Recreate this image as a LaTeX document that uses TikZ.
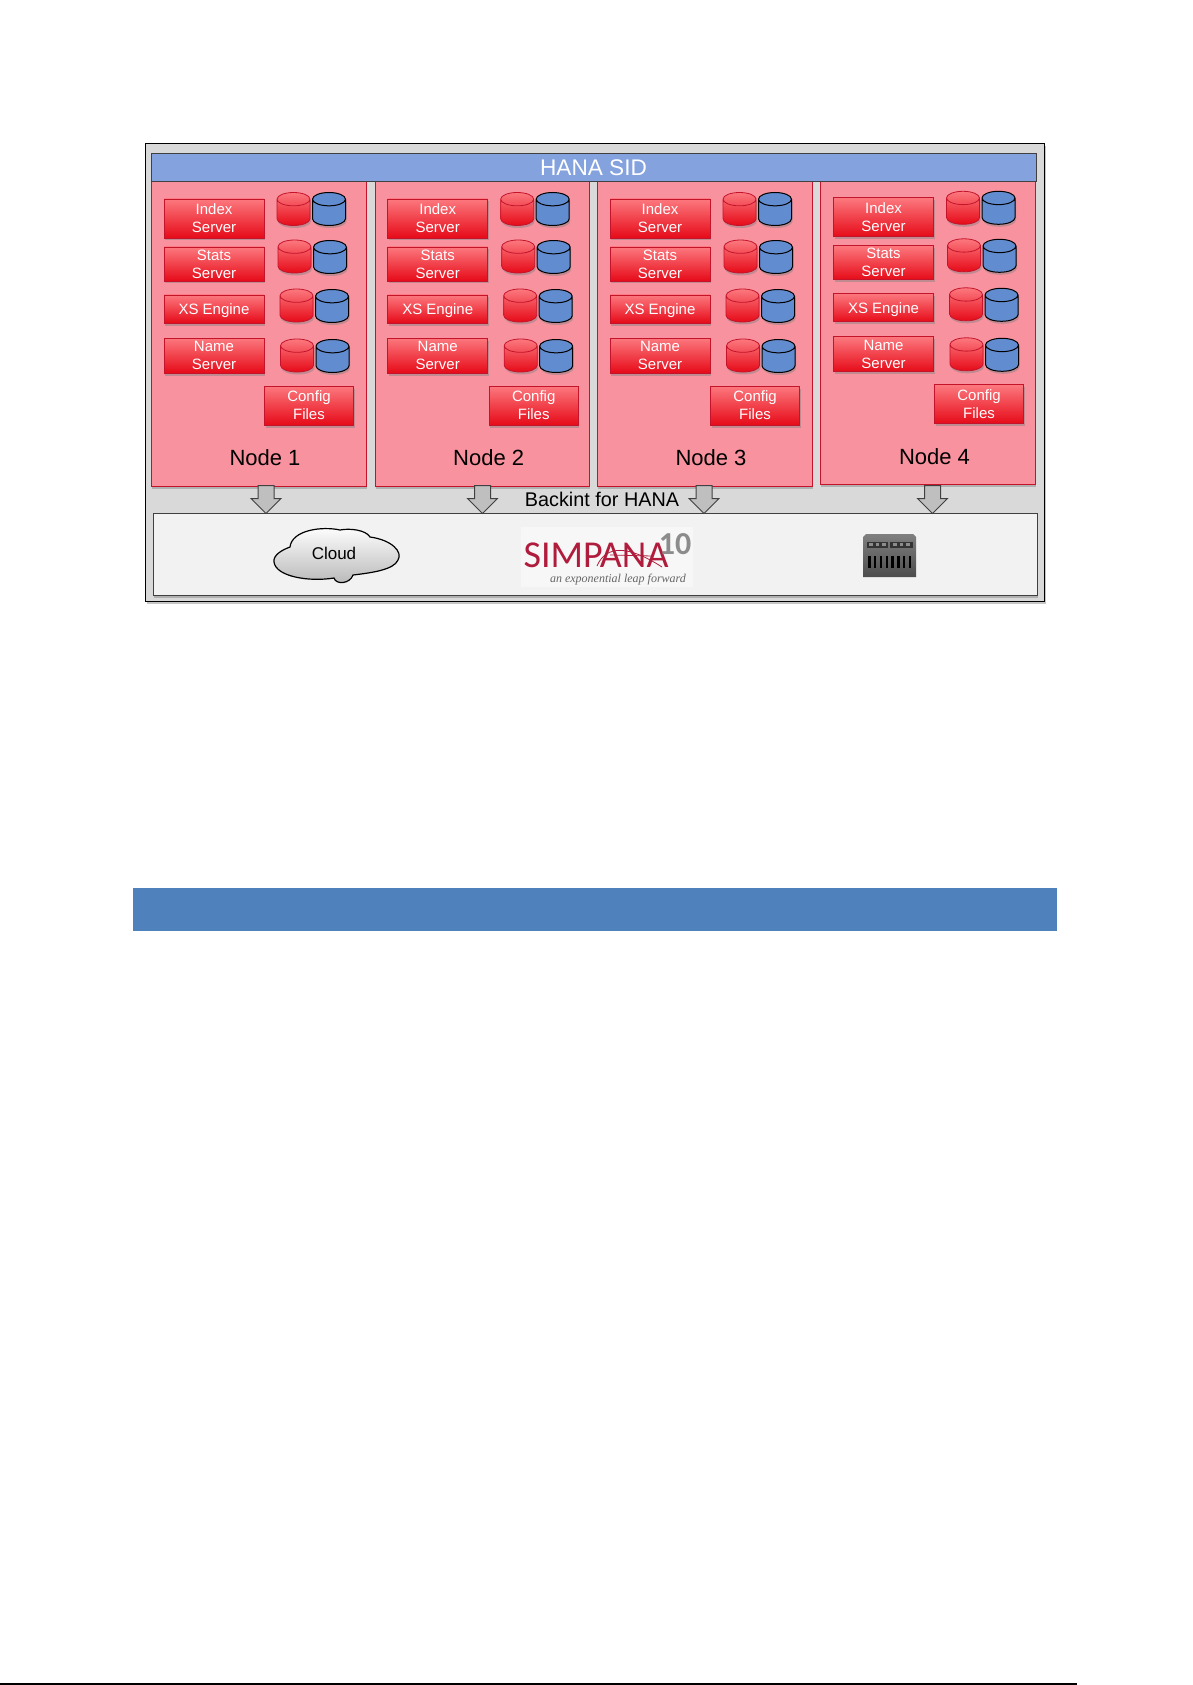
\documentclass[tikz,border=0pt]{standalone}
\usepackage{fontspec}
\setmainfont{Liberation Sans}
\newfontfamily\logofont{Carlito}
\newfontfamily\tagfont{Liberation Serif}
\usepackage{tikz}
\usetikzlibrary{positioning,shapes.geometric,shapes.arrows,shadows}

\definecolor{pinkpanel}{RGB}{248,146,158}
\definecolor{redline}{RGB}{196,20,44}
\definecolor{titleblue}{RGB}{132,162,222}
\definecolor{cylblue}{RGB}{98,140,208}
\definecolor{bandblue}{RGB}{79,129,189}
\definecolor{logored}{RGB}{176,28,60}
\definecolor{redtop}{RGB}{252,120,126}
\definecolor{redmid}{RGB}{245,72,80}
\definecolor{redbot}{RGB}{230,10,24}

\begin{document}
\begin{tikzpicture}[
    x=1pt, y=-1pt,
    softshadow/.style={drop shadow={opacity=.45, shadow xshift=1pt, shadow yshift=-2.5pt}},
    outerbox/.style={draw=black, line width=1pt, fill=black!15, minimum width=899pt, minimum height=457pt, softshadow},
    titlebar/.style={draw=black!75, line width=1pt, fill=titleblue, text=white, minimum width=885pt, minimum height=28pt, font=\fontsize{22.6}{26}\selectfont},
    panel/.style={draw=redline, line width=1pt, fill=pinkpanel, minimum height=304pt, softshadow},
    redbox/.style={draw=redline, line width=.8pt, top color=redtop, middle color=redmid, bottom color=redbot, text=white, minimum width=100pt, inner sep=0pt, align=center, font=\fontsize{15}{18}\selectfont, softshadow},
    cyl/.style={shape=cylinder, anchor=shape center, shape border rotate=90, shape aspect=2, minimum width=33pt, minimum height=33pt},
    redcyl/.style={cyl, draw=redline, line width=.8pt, top color=redtop, bottom color=redbot, softshadow},
    bluecyl/.style={cyl, draw=black, line width=1pt, fill=cylblue, softshadow},
    nodelabel/.style={font=\fontsize{22}{26}\selectfont},
    downarrow/.style={shape=single arrow, shape border rotate=270, draw=black!75, line width=1pt, fill=black!25, minimum height=28pt, single arrow head extend=7pt, inner sep=7.5pt, single arrow tip angle=90},
    storebox/.style={draw=black!75, line width=1pt, fill=black!5, minimum width=884pt, minimum height=82pt, softshadow},
    cloudshape/.style={draw=black, line width=1.2pt, top color=white, bottom color=black!28}
]

\useasboundingbox (0,0) rectangle (1192,1685);

\node[outerbox] (sid) at (595,372.5) {};

\node[panel, minimum width=215pt] (panel1) at (258.5,334) {};
\node[panel, minimum width=214pt] (panel2) at (482,334) {};
\node[panel, minimum width=215pt] (panel3) at (704.5,334) {};
\node[panel, minimum width=215pt, minimum height=302pt] (panel4) at (927.5,333) {};

\node[titlebar] (title) at (593.5,168) {HANA SID};

\foreach \i/\dx/\dy/\cx in {1/0/0/309, 2/223.7/0/310, 3/446/0/309, 4/669.5/-1.2/309.5} {
  \begin{scope}[shift={(\dx,\dy)}]
    \node[redbox, minimum height=39pt, text depth=0pt] (index\i) at (214,218.5) {Index\\Server};
    \node[redbox, minimum height=34pt] (stats\i) at (214,264) {Stats\\Server};
    \node[redbox, minimum height=28pt, text depth=0pt] (xs\i) at (214,309) {XS Engine};
    \node[redbox, minimum height=35pt] (name\i) at (214,355.5) {Name\\Server};
    \node[redbox, minimum width=89pt, minimum height=39pt] (config\i) at (\cx,405.5) {Config\\Files};
    \node[nodelabel] (label\i) at (265,458) {Node \i};
    \node[redcyl] (ra\i) at (293.5,209) {};
    \node[bluecyl] (ba\i) at (329,209) {};
    \node[redcyl] (rb\i) at (294.5,256.5) {};
    \node[bluecyl] (bb\i) at (330,257) {};
    \node[redcyl] (rc\i) at (296.5,305.5) {};
    \node[bluecyl] (bc\i) at (332,306) {};
    \node[redcyl] (rd\i) at (297,355.5) {};
    \node[bluecyl] (bd\i) at (332.5,356) {};
  \end{scope}
}

\node[storebox] (store) at (595,554) {};

\foreach \i/\x in {1/266, 2/482.5, 3/704, 4/932.5} {
  \node[downarrow] (arrow\i) at (\x,495.5) {};
}
\node[font=\fontsize{19.8}{24}\selectfont] (backint) at (602,499.5) {Backint for HANA};

\path[cloudshape] (290,547) .. controls (292,530) and (322,526) .. (340,530)
  .. controls (350,528) and (366,530) .. (370,537)
  .. controls (392,540) and (403,552) .. (398,560)
  .. controls (394,570) and (370,573) .. (353,575)
  .. controls (350,584) and (336,585) .. (334,578)
  .. controls (310,582) and (276,577) .. (274,562)
  .. controls (273,555) and (282,550) .. (290,547) -- cycle;
\node[font=\fontsize{17}{20}\selectfont] (cloud) at (334,553) {Cloud};

\node[fill=black!3, minimum width=172pt, minimum height=60pt, inner sep=0pt] (logobg) at (607,557) {};
\node[font=\logofont\fontsize{38}{40}\selectfont, text=logored, inner sep=0pt, text height=24pt, text depth=0pt] (simpana) at (596,555.5) {SIMPANA};
\node[font=\logofont\bfseries\fontsize{32}{36}\selectfont, text=black!45, inner sep=0pt] (ten) at (675,544) {10};
\node[font=\tagfont\itshape\fontsize{12}{14}\selectfont, text=black!60, inner sep=0pt] (tagline) at (618,580) {an exponential leap forward};
\coordinate (swooshstart) at (597,566);
\coordinate (swooshend) at (662,567);
\draw[logored, line width=.8pt] (swooshstart) .. controls (606,545) and (628,545) .. (swooshend);
\coordinate (strikestart) at (610,555);
\coordinate (strikeend) at (652,556);
\draw[logored, line width=.8pt] (strikestart) -- (strikeend);

\path[top color=black!50, bottom color=black!70] (863,537) -- (866,534) -- (913,534) -- (916,537) -- (916,577) -- (863,577) -- cycle;
\node[fill=black!80, minimum width=21pt, minimum height=6pt, inner sep=0pt] (serverleft) at (877.5,544.5) {};
\node[fill=black!80, minimum width=23pt, minimum height=6pt, inner sep=0pt] (serverright) at (901.5,544.5) {};
\foreach \x in {871,877.5,884,895,901.5,908} {
  \node[fill=black!45, minimum width=3.5pt, minimum height=3.5pt, inner sep=0pt] (light\x) at (\x,544.5) {};
}
\foreach \x in {869.3,875.2,881,887,892.7,898.3,904,910} {
  \node[fill=black, minimum width=2.5pt, minimum height=12pt, inner sep=0pt] (slot\x) at (\x,561.5) {};
}

\node[fill=bandblue, minimum width=924pt, minimum height=43pt] (band) at (595,909.5) {};

\coordinate (rulestart) at (0,1684);
\coordinate (ruleend) at (1077,1684);
\draw[line width=1.2pt] (rulestart) -- (ruleend);

\end{tikzpicture}
\end{document}
